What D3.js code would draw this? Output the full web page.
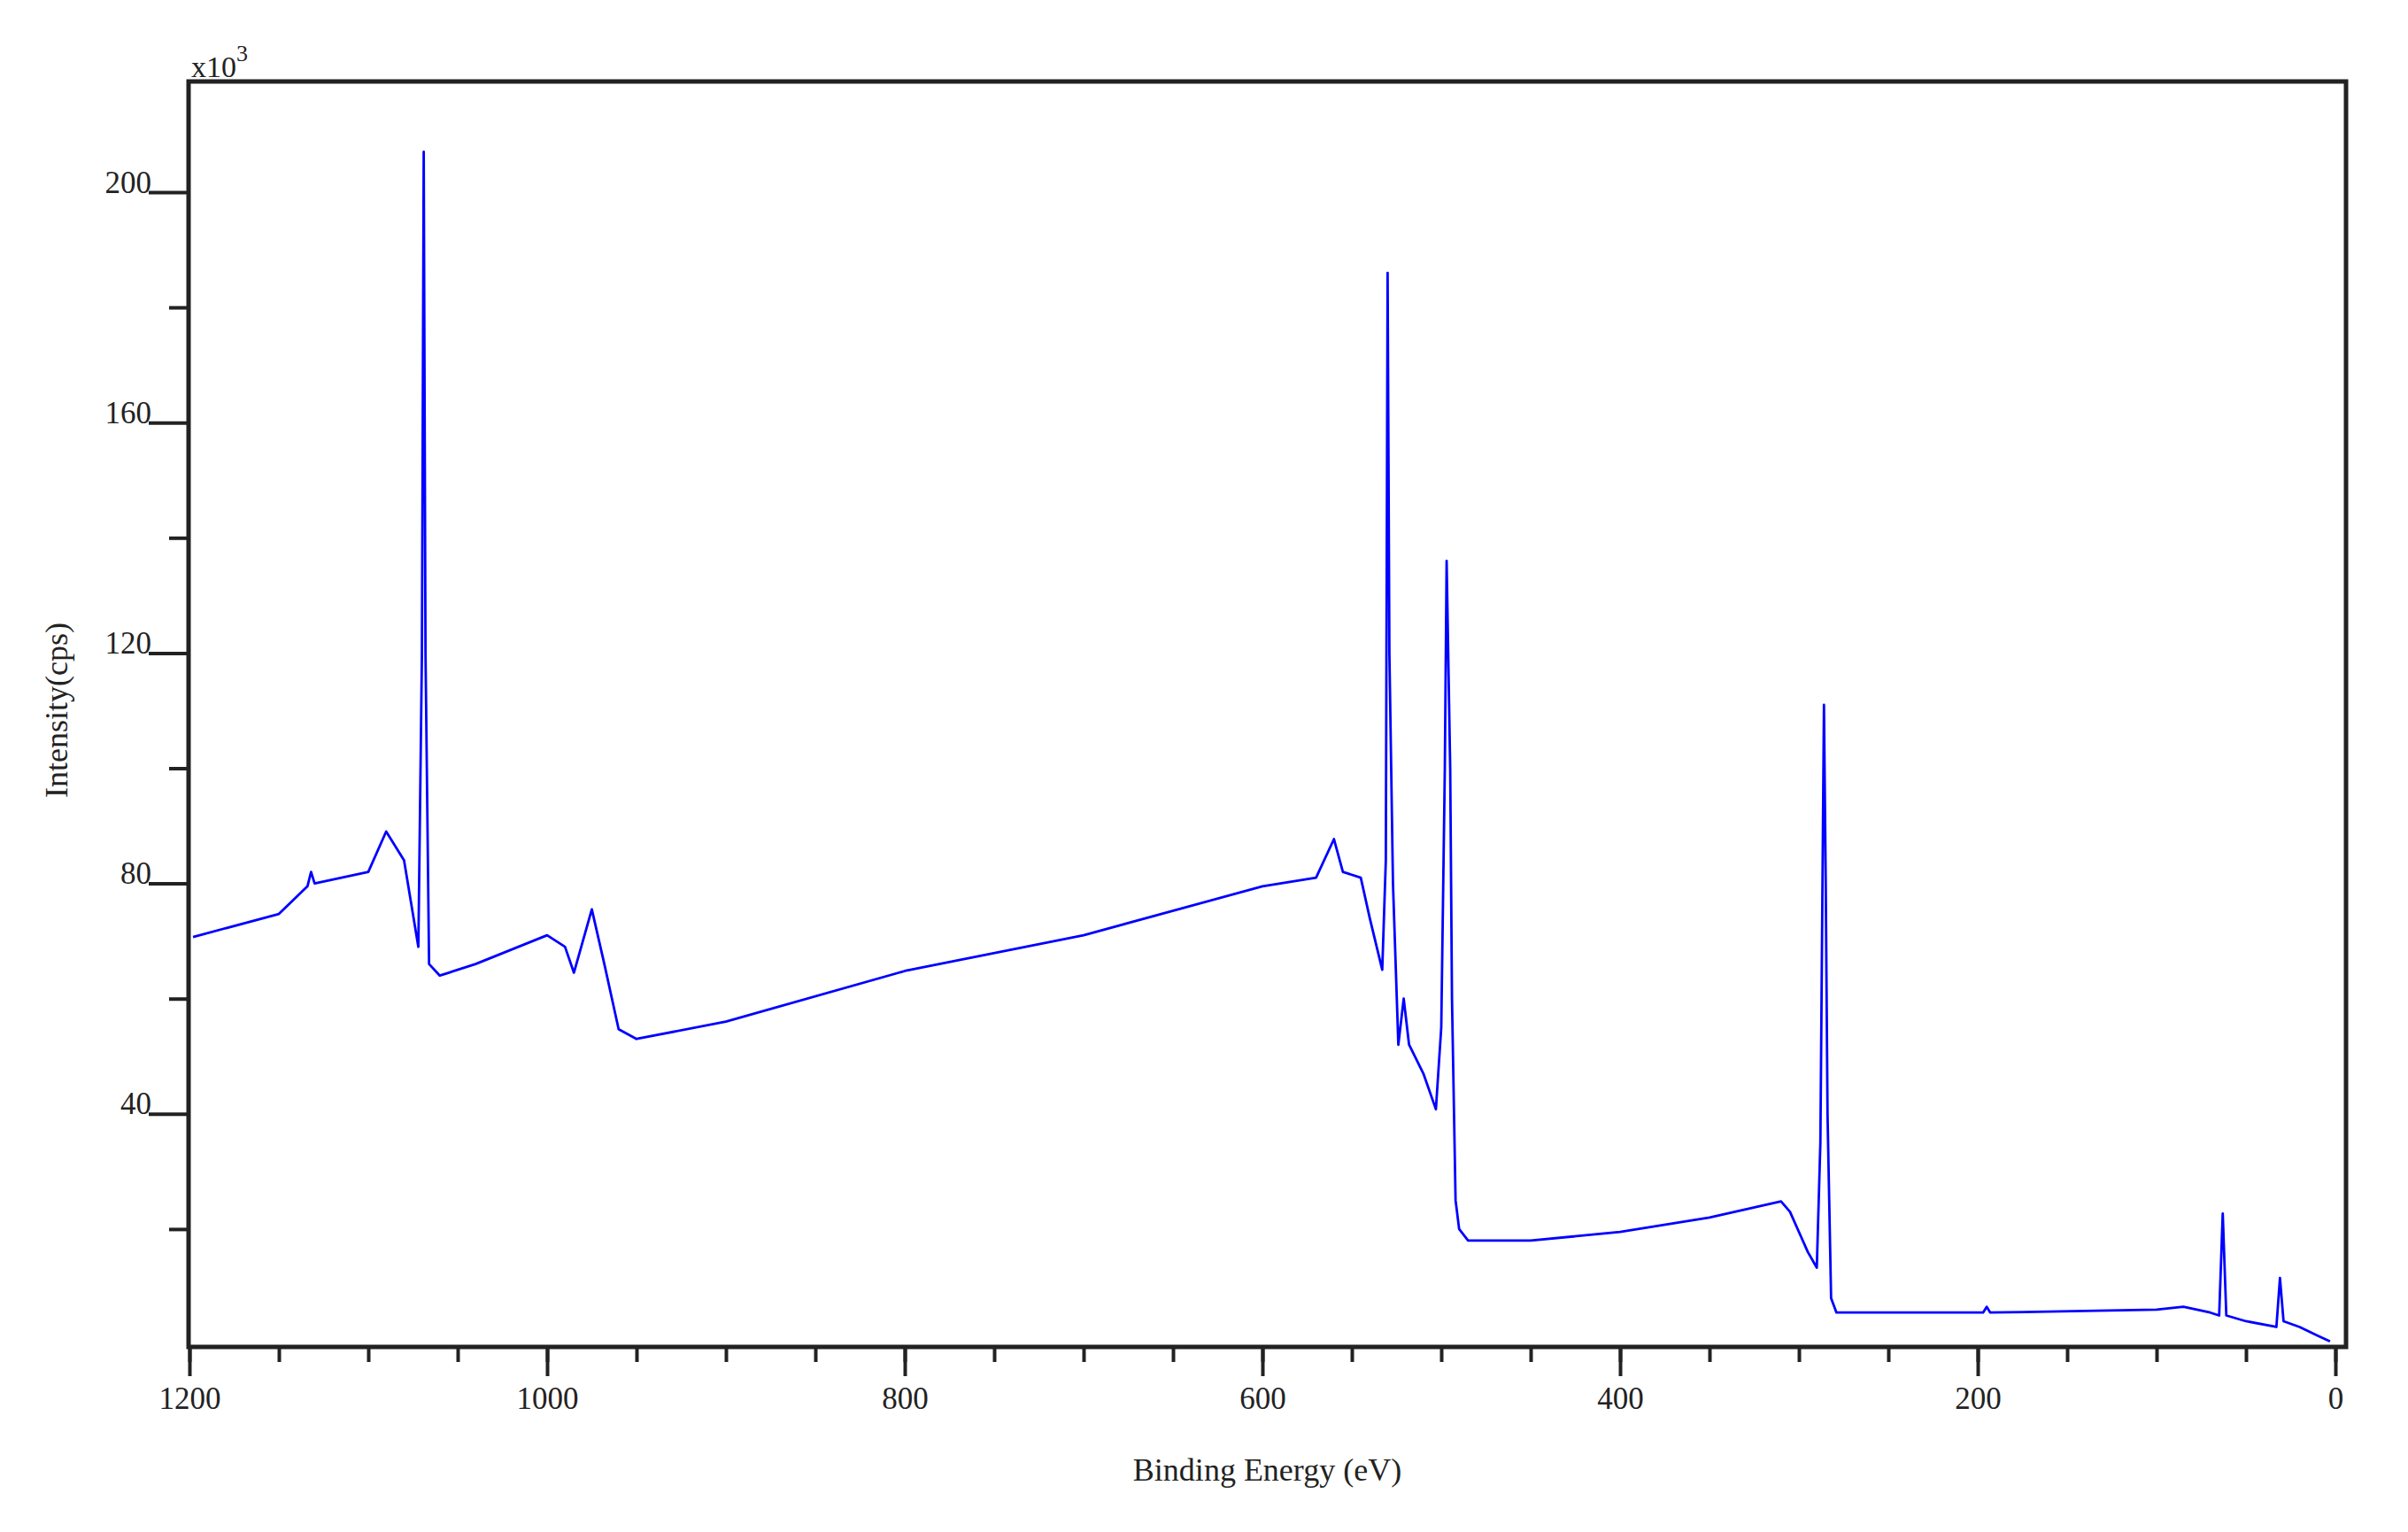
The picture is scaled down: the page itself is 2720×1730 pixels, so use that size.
<!DOCTYPE html>
<html><head><meta charset="utf-8">
<script src="https://cdn.jsdelivr.net/npm/d3@7"></script>
<style>body{margin:0;background:#fff}text{font-family:"Liberation Serif","DejaVu Serif",serif;fill:#222}</style>
</head><body><svg id="c" width="2720" height="1730"></svg>
<script>
// binding energy (eV) and intensity (x10^3 cps)
var energy = [1198,1150,1134,1132,1130,1100,1090,1080,1072,1070,1069,1068,1066,1060,1040,1000,990,985,975,968,960,950,900,800,700,600,570,560,555,545,540,533,531,530,529,527,524,521,518,510,503,500,498,497,495,494,492,490,485,450,400,350,310,305,295,290,288,286,285,284,282,279,250,197,195,193,100,85,70,65,63,61,50,33,31,29,20,10,3];
var intensity = [70.7,74.7,79.5,82,80,82,89,84,69,120,207,120,66,64,66,71,69,64.5,75.5,66,54.7,53,56,64.8,71,79.5,81,87.7,82,81,74,65,84,186,120,80,52,60,52,47,40.8,55,100,136,100,60,25,20,18,18,19.5,22,24.8,23,16,13.3,35,111,80,40,8,5.5,5.5,5.5,6.5,5.5,6,6.5,5.5,5,22.7,5,4,3,11.5,4,3,1.5,0.5];
var xMajor = [1200,1000,800,600,400,200,0];
var yMajor = [40,80,120,160,200];

var svg = d3.select("#c");
var L = 213, R = 2650, T = 92, B = 1521;
var x = d3.scaleLinear().domain([1200, 0]).range([214, 2638]);
var y = d3.scaleLinear().domain([0, 200]).range([1518, 217]);

// x ticks: minor every 50, major every 200
svg.append("g").attr("transform", "translate(0," + B + ")")
  .call(d3.axisBottom(x).tickValues(d3.range(0, 1201, 50)).tickSize(17).tickFormat(""))
  .call(function(g){ g.select(".domain").remove(); g.selectAll("line").attr("stroke", "#222").attr("stroke-width", 4); });
svg.append("g").attr("transform", "translate(0," + B + ")")
  .call(d3.axisBottom(x).tickValues(xMajor).tickSize(33).tickPadding(12).tickFormat(d3.format("d")))
  .call(function(g){ g.select(".domain").remove();
    g.selectAll("line").attr("stroke", "#222").attr("stroke-width", 4);
    g.selectAll("text").attr("font-size", 35).attr("fill", "#222"); });

// y ticks: minor every 20, major every 40
svg.append("g").attr("transform", "translate(" + L + ",0)")
  .call(d3.axisLeft(y).tickValues(d3.range(20, 201, 40)).tickSize(22).tickFormat(""))
  .call(function(g){ g.select(".domain").remove(); g.selectAll("line").attr("stroke", "#222").attr("stroke-width", 4); });
var ya = svg.append("g").attr("transform", "translate(" + L + ",0)")
  .call(d3.axisLeft(y).tickValues(yMajor).tickSize(45).tickPadding(0).tickFormat(d3.format("d")));
ya.select(".domain").remove();
ya.selectAll("line").attr("stroke", "#222").attr("stroke-width", 4);
ya.selectAll("text").attr("font-size", 35).attr("fill", "#222").attr("x", -42).attr("dy", "0").attr("y", 0);

// frame
svg.append("rect").attr("x", L).attr("y", T).attr("width", R - L).attr("height", B - T)
  .attr("fill", "none").attr("stroke", "#222").attr("stroke-width", 5);

// spectrum
var pts = energy.map(function(e, i){ return [e, intensity[i]]; });
svg.append("path").datum(pts)
  .attr("d", d3.line().x(function(d){ return x(d[0]); }).y(function(d){ return y(d[1]); }))
  .attr("fill", "none").attr("stroke", "#0000ff").attr("stroke-width", 2.8).attr("stroke-linejoin", "round");

svg.append("text").attr("x", 216).attr("y", 87).attr("font-size", 34).text("x10")
  .append("tspan").attr("dy", -18).attr("font-size", 26).text("3");
svg.append("text").attr("x", (L + R) / 2).attr("y", 1672).attr("text-anchor", "middle").attr("font-size", 36).text("Binding Energy (eV)");
svg.append("text").attr("transform", "translate(76,802) rotate(-90)").attr("text-anchor", "middle").attr("font-size", 36).text("Intensity(cps)");
</script></body></html>
